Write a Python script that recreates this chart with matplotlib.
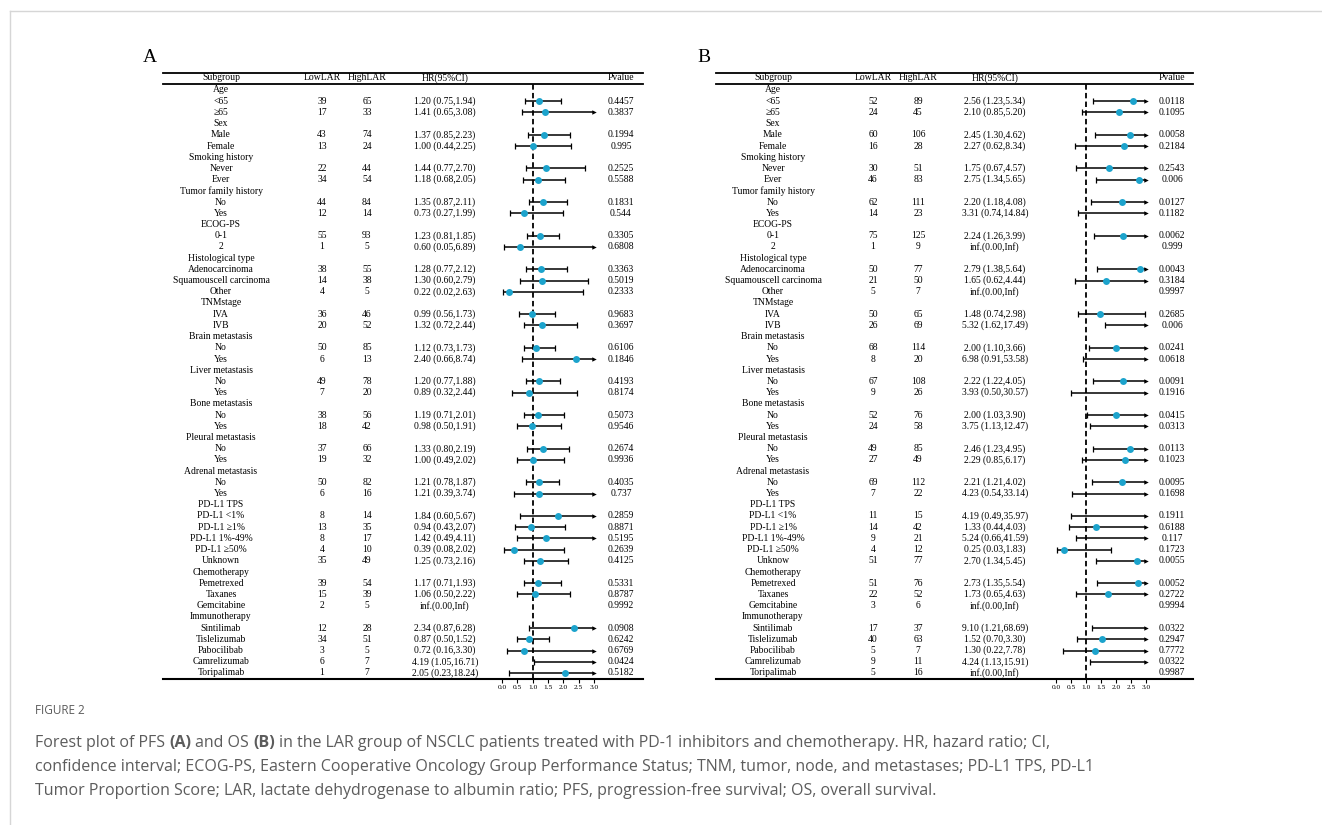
import matplotlib.pyplot as plt
import numpy as np

INF = np.inf

# subgroup layout shared by both panels
group_names = ["Age", "Sex", "Smoking history", "Tumor family history", "ECOG-PS",
               "Histological type", "TNMstage", "Brain metastasis", "Liver metastasis",
               "Bone metastasis", "Pleural metastasis", "Adrenal metastasis",
               "PD-L1 TPS", "Chemotherapy", "Immunotherapy"]
group_items = [["<65", "≥65"], ["Male", "Female"], ["Never", "Ever"], ["No", "Yes"],
               ["0-1", "2"], ["Adenocarcinoma", "Squamouscell carcinoma", "Other"],
               ["IVA", "IVB"], ["No", "Yes"], ["No", "Yes"], ["No", "Yes"], ["No", "Yes"],
               ["No", "Yes"],
               ["PD-L1 <1%", "PD-L1 ≥1%", "PD-L1 1%-49%", "PD-L1 ≥50%", "Unknown"],
               ["Pemetrexed", "Taxanes", "Gemcitabine"],
               ["Sintilimab", "Tislelizumab", "Pabocilibab", "Camrelizumab", "Toripalimab"]]

# panel A (PFS)
a_low = [39, 17, 43, 13, 22, 34, 44, 12, 55, 1, 38, 14, 4, 36, 20, 50, 6, 49, 7, 38, 18,
         37, 19, 50, 6, 8, 13, 8, 4, 35, 39, 15, 2, 12, 34, 3, 6, 1]
a_high = [65, 33, 74, 24, 44, 54, 84, 14, 93, 5, 55, 38, 5, 46, 52, 85, 13, 78, 20, 56, 42,
          66, 32, 82, 16, 14, 35, 17, 10, 49, 54, 39, 5, 28, 51, 5, 7, 7]
a_hr = [1.20, 1.41, 1.37, 1.00, 1.44, 1.18, 1.35, 0.73, 1.23, 0.60, 1.28, 1.30, 0.22, 0.99,
        1.32, 1.12, 2.40, 1.20, 0.89, 1.19, 0.98, 1.33, 1.00, 1.21, 1.21, 1.84, 0.94, 1.42,
        0.39, 1.25, 1.17, 1.06, INF, 2.34, 0.87, 0.72, 4.19, 2.05]
a_lo = [0.75, 0.65, 0.85, 0.44, 0.77, 0.68, 0.87, 0.27, 0.81, 0.05, 0.77, 0.60, 0.02, 0.56,
        0.72, 0.73, 0.66, 0.77, 0.32, 0.71, 0.50, 0.80, 0.49, 0.78, 0.39, 0.60, 0.43, 0.49,
        0.08, 0.73, 0.71, 0.50, 0.00, 0.87, 0.50, 0.16, 1.05, 0.23]
a_hi = [1.94, 3.08, 2.23, 2.25, 2.70, 2.05, 2.11, 1.99, 1.85, 6.89, 2.12, 2.79, 2.63, 1.73,
        2.44, 1.73, 8.74, 1.88, 2.44, 2.01, 1.91, 2.19, 2.02, 1.87, 3.74, 5.67, 2.07, 4.11,
        2.02, 2.16, 1.93, 2.22, INF, 6.28, 1.52, 3.30, 16.71, 18.24]
a_p = ["0.4457", "0.3837", "0.1994", "0.995", "0.2525", "0.5588", "0.1831", "0.544",
       "0.3305", "0.6808", "0.3363", "0.5019", "0.2333", "0.9683", "0.3697", "0.6106",
       "0.1846", "0.4193", "0.8174", "0.5073", "0.9546", "0.2674", "0.9936", "0.4035",
       "0.737", "0.2859", "0.8871", "0.5195", "0.2639", "0.4125", "0.5331", "0.8787",
       "0.9992", "0.0908", "0.6242", "0.6769", "0.0424", "0.5182"]

# panel B (OS)
b_low = [52, 24, 60, 16, 30, 46, 62, 14, 75, 1, 50, 21, 5, 50, 26, 68, 8, 67, 9, 52, 24,
         49, 27, 69, 7, 11, 14, 9, 4, 51, 51, 22, 3, 17, 40, 5, 9, 5]
b_high = [89, 45, 106, 28, 51, 83, 111, 23, 125, 9, 77, 50, 7, 65, 69, 114, 20, 108, 26, 76,
          58, 85, 49, 112, 22, 15, 42, 21, 12, 77, 76, 52, 6, 37, 63, 7, 11, 16]
b_hr = [2.56, 2.10, 2.45, 2.27, 1.75, 2.75, 2.20, 3.31, 2.24, INF, 2.79, 1.65, INF, 1.48,
        5.32, 2.00, 6.98, 2.22, 3.93, 2.00, 3.75, 2.46, 2.29, 2.21, 4.23, 4.19, 1.33, 5.24,
        0.25, 2.70, 2.73, 1.73, INF, 9.10, 1.52, 1.30, 4.24, INF]
b_lo = [1.23, 0.85, 1.30, 0.62, 0.67, 1.34, 1.18, 0.74, 1.26, 0.00, 1.38, 0.62, 0.00, 0.74,
        1.62, 1.10, 0.91, 1.22, 0.50, 1.03, 1.13, 1.23, 0.85, 1.21, 0.54, 0.49, 0.44, 0.66,
        0.03, 1.34, 1.35, 0.65, 0.00, 1.21, 0.70, 0.22, 1.13, 0.00]
b_hi = [5.34, 5.20, 4.62, 8.34, 4.57, 5.65, 4.08, 14.84, 3.99, INF, 5.64, 4.44, INF, 2.98,
        17.49, 3.66, 53.58, 4.05, 30.57, 3.90, 12.47, 4.95, 6.17, 4.02, 33.14, 35.97, 4.03,
        41.59, 1.83, 5.45, 5.54, 4.63, INF, 68.69, 3.30, 7.78, 15.91, INF]
b_p = ["0.0118", "0.1095", "0.0058", "0.2184", "0.2543", "0.006", "0.0127", "0.1182",
       "0.0062", "0.999", "0.0043", "0.3184", "0.9997", "0.2685", "0.006", "0.0241",
       "0.0618", "0.0091", "0.1916", "0.0415", "0.0313", "0.0113", "0.1023", "0.0095",
       "0.1698", "0.1911", "0.6188", "0.117", "0.1723", "0.0055", "0.0052", "0.2722",
       "0.9994", "0.0322", "0.2947", "0.7772", "0.0322", "0.9987"]

tick_values = [0.0, 0.5, 1.0, 1.5, 2.0, 2.5, 3.0]

W, H = 1322, 825
ROW0, ROWH = 90.0, 11.21
TOP_LINE, HEAD_LINE, BOTTOM_LINE = 72.5, 83.5, 679.0
DOT = "#1ca3cc"
SERIF = ["Liberation Serif", "DejaVu Serif"]
CAPTION_GREY = "#5c5c5c"


def fmt_hr(hr, lo, hi):
    if np.isinf(hr):
        return "inf.(%.2f,Inf)" % lo
    return "%.2f (%.2f,%.2f)" % (hr, lo, hi)


def build_rows(items):
    rows = []
    k = 0
    for name, subs in zip(group_names, items):
        rows.append((name, None))
        for s in subs:
            rows.append((s, k))
            k += 1
    return rows


def draw_panel(fig, base, letter, letter_x, cols, line_x, axis_x, items,
               low, high, hr, lo, hi, p):
    sub_x, low_x, high_x, hr_x, p_x = cols
    fs = 6.9
    base.text(letter_x, 57, letter, fontsize=14, family=SERIF, ha="center", va="center")

    base.plot(line_x, [TOP_LINE, TOP_LINE], color="black", lw=1.3)
    base.plot(line_x, [HEAD_LINE, HEAD_LINE], color="black", lw=1.3)
    base.plot(line_x, [BOTTOM_LINE, BOTTOM_LINE], color="black", lw=1.5)
    head_y = (TOP_LINE + HEAD_LINE) / 2
    for x, s in zip(cols, ["Subgroup", "LowLAR", "HighLAR", "HR(95%CI)", "Pvalue"]):
        base.text(x, head_y, s, fontsize=fs, family=SERIF, ha="center", va="center")

    rows = build_rows(items)
    for i, (label, k) in enumerate(rows):
        y = ROW0 + i * ROWH
        base.text(sub_x, y, label, fontsize=fs, family=SERIF, ha="center", va="center")
        if k is None:
            continue
        base.text(low_x, y, str(low[k]), fontsize=fs, family=SERIF, ha="center", va="center")
        base.text(high_x, y, str(high[k]), fontsize=fs, family=SERIF, ha="center", va="center")
        base.text(hr_x, y, fmt_hr(hr[k], lo[k], hi[k]), fontsize=fs, family=SERIF,
                  ha="center", va="center")
        base.text(p_x, y, p[k], fontsize=fs, family=SERIF, ha="center", va="center")

    # forest part, in HR units
    x0, x3 = axis_x
    ax = fig.add_axes([x0 / W, 1 - BOTTOM_LINE / H, (x3 - x0) / W,
                       (BOTTOM_LINE - HEAD_LINE) / H])
    ax.patch.set_visible(False)
    ax.set_xlim(0, 3)
    ax.set_ylim((BOTTOM_LINE - ROW0) / ROWH, (HEAD_LINE - ROW0) / ROWH)
    for sp in ax.spines.values():
        sp.set_visible(False)
    ax.set_yticks([])
    ax.set_xticks(tick_values)
    ax.set_xticklabels(["%.1f" % v for v in tick_values], family=SERIF)
    ax.tick_params(axis="x", direction="out", length=3, width=0.8, labelsize=5.3, pad=1)

    ax.axvline(1.0, color="black", lw=1.3, ls=(0, (3, 1.8)), zorder=1)
    for i, (label, k) in enumerate(rows):
        if k is None or np.isinf(hr[k]):
            continue
        right = min(hi[k], 3.0)
        ax.plot([lo[k], right], [i, i], color="black", lw=1.1, solid_capstyle="butt",
                zorder=2, clip_on=False)
        ax.plot(lo[k], i, marker="|", ms=4, mew=0.9, color="black", clip_on=False)
        if hi[k] > 3.0:
            ax.plot(3.0, i, marker=">", ms=3.2, color="black", mew=0, clip_on=False)
        else:
            ax.plot(right, i, marker="|", ms=4, mew=0.9, color="black", clip_on=False)
        if hr[k] <= 3.0:
            ax.plot(hr[k], i, marker="o", ms=5, color=DOT, mew=0, zorder=3, clip_on=False)


def main() -> None:
    fig = plt.figure(figsize=(W / 100, H / 100), dpi=100)
    base = fig.add_axes([0, 0, 1, 1])
    base.set_xlim(0, W)
    base.set_ylim(H, 0)
    base.axis("off")

    # page frame
    base.plot([9.5, W], [10.5, 10.5], color="#d6d6d6", lw=1.0)
    base.plot([9.5, 9.5], [10.5, H], color="#d6d6d6", lw=1.0)

    items_b = [["Unknow" if s == "Unknown" else s for s in g] for g in group_items]

    draw_panel(fig, base, "A", 150, (221, 322, 367, 445, 621), [163, 643], (502, 594),
               group_items, a_low, a_high, a_hr, a_lo, a_hi, a_p)
    draw_panel(fig, base, "B", 704, (773, 873, 918, 995, 1172), [716, 1193], (1056, 1146),
               items_b, b_low, b_high, b_hr, b_lo, b_hi, b_p)

    # caption
    cap = dict(family="Open Sans", fontsize=11.5, color=CAPTION_GREY)
    base.text(35, 710, "FIGURE 2", family="Open Sans", fontsize=8.5, color=CAPTION_GREY,
              va="center", ha="left")
    parts = [("Forest plot of PFS", "normal"), ("(A)", "bold"), ("and OS", "normal"),
             ("(B)", "bold"),
             ("in the LAR group of NSCLC patients treated with PD-1 inhibitors and "
              "chemotherapy. HR, hazard ratio; CI,", "normal")]
    t = base.text(35, 743, parts[0][0], va="center", ha="left", **cap)
    for s, w in parts[1:]:
        t = base.annotate(s, xy=(1, 0), xycoords=t, xytext=(3, 0),
                          textcoords="offset points", va="bottom", ha="left",
                          fontweight=w, **cap)
    base.text(35, 767, "confidence interval; ECOG-PS, Eastern Cooperative Oncology Group "
              "Performance Status; TNM, tumor, node, and metastases; PD-L1 TPS, PD-L1",
              va="center", ha="left", **cap)
    base.text(35, 791, "Tumor Proportion Score; LAR, lactate dehydrogenase to albumin "
              "ratio; PFS, progression-free survival; OS, overall survival.",
              va="center", ha="left", **cap)

    fig.savefig("out.png", dpi=100)


if __name__ == "__main__":
    main()
